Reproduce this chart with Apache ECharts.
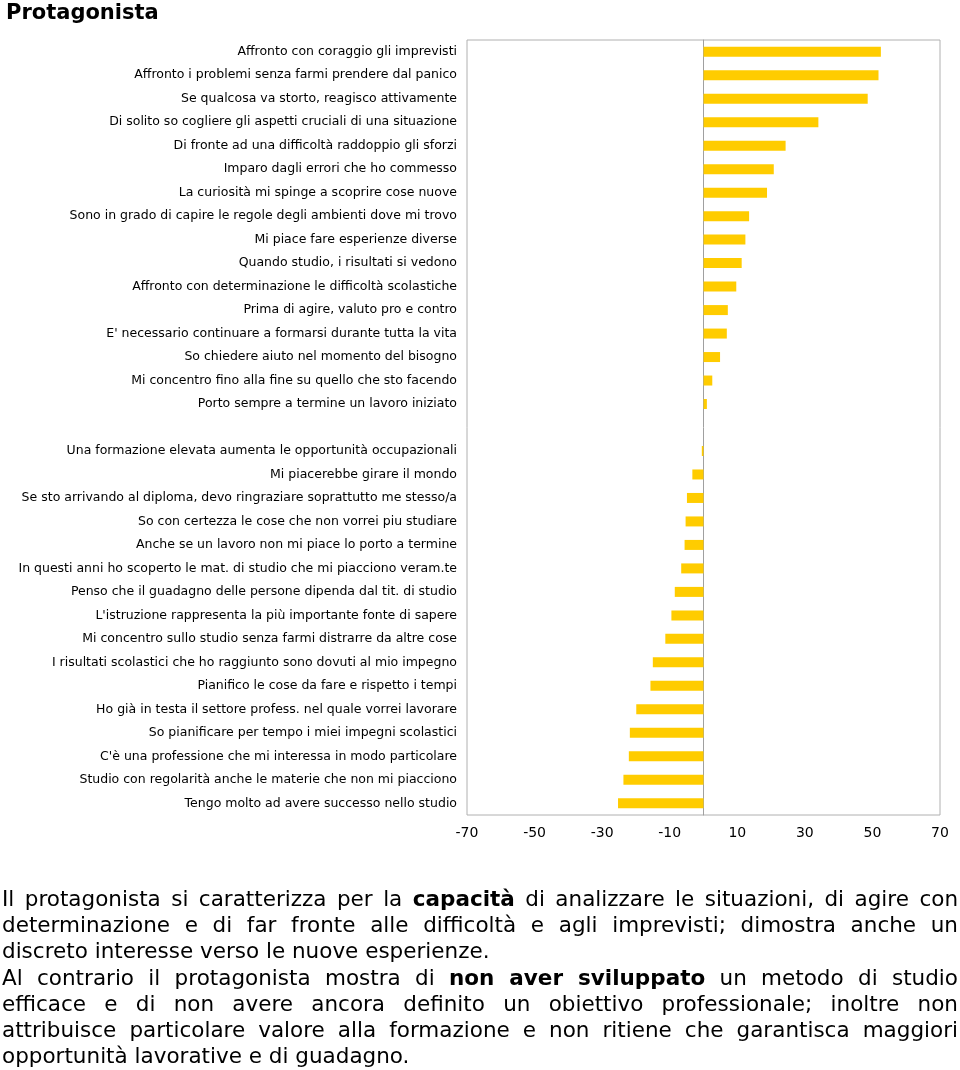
<!DOCTYPE html>
<html>
<head>
<meta charset="utf-8">
<script src="https://cdn.jsdelivr.net/npm/echarts@6/dist/echarts.min.js"></script>
<style>
html,body{margin:0;padding:0;background:#fff;}
#wrap{position:relative;width:960px;height:1070px;}
#chart{position:absolute;left:0;top:0;width:960px;height:1070px;}
#txt{position:absolute;left:2px;top:886px;width:956px;font-family:"DejaVu Sans",Verdana,sans-serif;font-size:21.5px;line-height:26.2px;color:#000;}
#txt div{white-space:nowrap;}
#txt div.j{text-align:justify;text-align-last:justify;}
</style>
</head>
<body>
<div id="wrap">
<div id="chart"></div>
<div id="txt">
<div class="j">Il protagonista si caratterizza per la <b>capacità</b> di analizzare le situazioni, di agire con</div>
<div class="j">determinazione e di far fronte alle difficoltà e agli imprevisti; dimostra anche un</div>
<div>discreto interesse verso le nuove esperienze.</div>
<div class="j">Al contrario il protagonista mostra di <b>non aver sviluppato</b> un metodo di studio</div>
<div class="j">efficace e di non avere ancora definito un obiettivo professionale; inoltre non</div>
<div class="j">attribuisce particolare valore alla formazione e non ritiene che garantisca maggiori</div>
<div>opportunità lavorative e di guadagno.</div>
</div>
</div>
<script>
const positiveItems = [
  "Affronto con coraggio gli imprevisti",
  "Affronto i problemi senza farmi prendere dal panico",
  "Se qualcosa va storto, reagisco attivamente",
  "Di solito so cogliere gli aspetti cruciali di una situazione",
  "Di fronte ad una difficoltà raddoppio gli sforzi",
  "Imparo dagli errori che ho commesso",
  "La curiosità mi spinge a scoprire cose nuove",
  "Sono in grado di capire le regole degli ambienti dove mi trovo",
  "Mi piace fare esperienze diverse",
  "Quando studio, i risultati si vedono",
  "Affronto con determinazione le difficoltà scolastiche",
  "Prima di agire, valuto pro e contro",
  "E' necessario continuare a formarsi durante tutta la vita",
  "So chiedere aiuto nel momento del bisogno",
  "Mi concentro fino alla fine su quello che sto facendo",
  "Porto sempre a termine un lavoro iniziato"
];
const positiveValues = [52.5, 51.8, 48.6, 34.0, 24.3, 20.8, 18.8, 13.5, 12.4, 11.3, 9.7, 7.2, 6.9, 4.9, 2.6, 1.0];
const negativeItems = [
  "Una formazione elevata aumenta le opportunità occupazionali",
  "Mi piacerebbe girare il mondo",
  "Se sto arrivando al diploma, devo ringraziare soprattutto me stesso/a",
  "So con certezza le cose che non vorrei piu studiare",
  "Anche se un lavoro non mi piace lo porto a termine",
  "In questi anni ho scoperto le mat. di studio che mi piacciono veram.te",
  "Penso che il guadagno delle persone dipenda dal tit. di studio",
  "L'istruzione rappresenta la più importante fonte di sapere",
  "Mi concentro sullo studio senza farmi distrarre da altre cose",
  "I risultati scolastici che ho raggiunto sono dovuti al mio impegno",
  "Pianifico le cose da fare e rispetto i tempi",
  "Ho già in testa il settore profess. nel quale vorrei lavorare",
  "So pianificare per tempo i miei impegni scolastici",
  "C'è una professione che mi interessa in modo particolare",
  "Studio con regolarità anche le materie che non mi piacciono",
  "Tengo molto ad avere successo nello studio"
];
const negativeValues = [-0.5, -3.3, -4.9, -5.3, -5.6, -6.6, -8.5, -9.5, -11.3, -15.0, -15.7, -19.9, -21.8, -22.1, -23.7, -25.3];
const axisTicks = [-70, -50, -30, -10, 10, 30, 50, 70];

const categories = positiveItems.concat([""], negativeItems);
const values = positiveValues.concat(['-'], negativeValues);

const chart = echarts.init(document.getElementById('chart'), null, {renderer: 'canvas'});
const FONT = '"DejaVu Sans", Verdana, sans-serif';
chart.setOption({
  animation: false,
  backgroundColor: '#fff',
  title: {
    text: 'Protagonista',
    left: 1, top: -2,
    textStyle: {fontFamily: FONT, fontSize: 21, fontWeight: 'bold', color: '#000'}
  },
  grid: {
    left: 467, right: 20, top: 40, bottom: 255,
    show: true, borderColor: '#b0b0b0', borderWidth: 1, backgroundColor: 'transparent'
  },
  xAxis: {
    type: 'value', min: -70, max: 70, interval: 10,
    axisLine: {show: false}, axisTick: {show: false}, splitLine: {show: false},
    axisLabel: {
      margin: 11, fontFamily: FONT, fontSize: 14, color: '#000',
      formatter: function (v) { return axisTicks.indexOf(v) >= 0 ? String(v) : ''; }
    }
  },
  yAxis: {
    type: 'category', data: categories, inverse: true,
    axisLine: {show: true, onZero: true, lineStyle: {color: '#a0a0a0', width: 1}},
    axisTick: {show: false},
    axisLabel: {margin: 10, fontFamily: FONT, fontSize: 12.5, color: '#000'}
  },
  series: [{
    type: 'bar', data: values, barWidth: 10,
    itemStyle: {color: '#FFCC00'}
  }]
});
</script>
</body>
</html>
